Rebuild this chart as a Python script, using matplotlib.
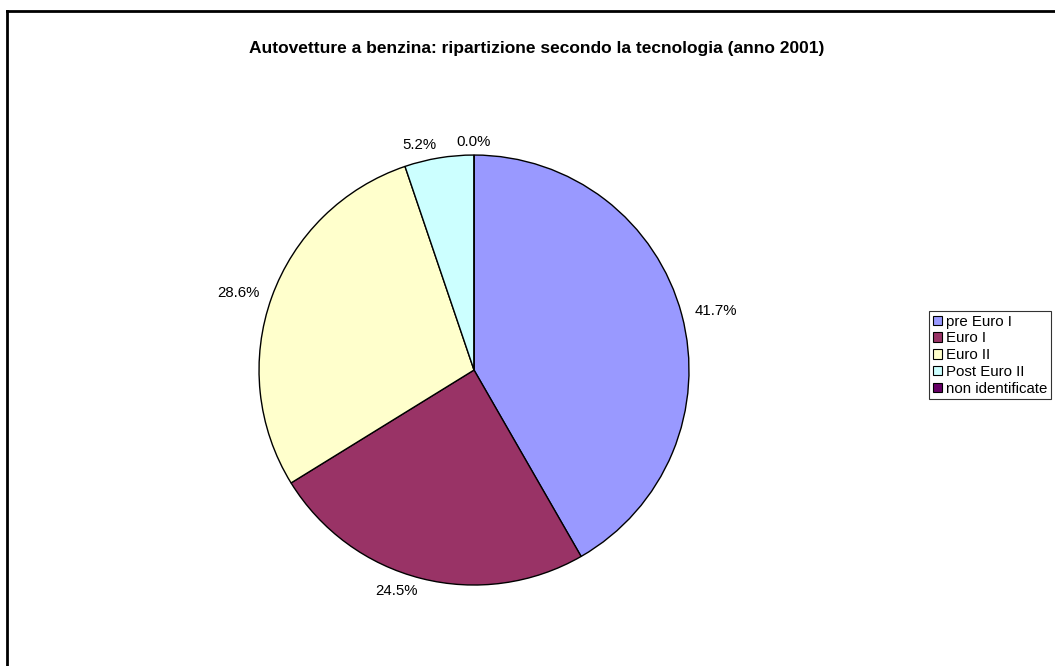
import matplotlib.pyplot as plt
from matplotlib.patches import Patch
from matplotlib.lines import Line2D

categories = ['pre Euro I', 'Euro I', 'Euro II', 'Post Euro II', 'non identificate']
shares = [41.7, 24.5, 28.6, 5.2, 0.0]
colors = ['#9999FF', '#993366', '#FFFFCC', '#CCFFFF', '#660066']

plt.rcParams['font.family'] = ['Liberation Sans', 'DejaVu Sans']

fig = plt.figure(figsize=(10.55, 6.66), dpi=100)

# outer chart border (only top and left visible in the crop)
fig.add_artist(Line2D([7/1055, 7/1055], [0, 1 - 11/666], color='black', lw=2, transform=fig.transFigure))
fig.add_artist(Line2D([7/1055, 1], [1 - 11/666, 1 - 11/666], color='black', lw=2, transform=fig.transFigure))

ax = fig.add_axes([0.2455, 0.1216, 0.4076, 0.6456])
wedges, texts = ax.pie(shares, colors=colors, startangle=90, counterclock=False,
                       labels=[f'{v:.1f}%' for v in shares], labeldistance=1.06,
                       wedgeprops=dict(edgecolor='black', linewidth=1.0),
                       textprops=dict(fontsize=10.8))
# the zero slice label sits centred over the top of the pie
texts[-1].set_ha('center')
ax.set_xlim(-1, 1)
ax.set_ylim(-1, 1)
ax.set_aspect('equal')
ax.axis('off')

fig.text(537/1055, 1 - 48/666, 'Autovetture a benzina: ripartizione secondo la tecnologia (anno 2001)',
         ha='center', va='center', fontsize=12.5, fontweight='bold')

handles = [Patch(facecolor=c, edgecolor='black', linewidth=0.8) for c in colors]
leg = fig.legend(handles, categories, loc='upper left', bbox_to_anchor=(929/1055, 1 - 311/666),
                 fontsize=10.8, frameon=True, fancybox=False, handlelength=0.6, handleheight=0.6,
                 handletextpad=0.25, labelspacing=0.18, borderpad=0.25, borderaxespad=0)
leg.get_frame().set_edgecolor('black')
leg.get_frame().set_linewidth(0.8)

fig.savefig('out.png', dpi=100)
